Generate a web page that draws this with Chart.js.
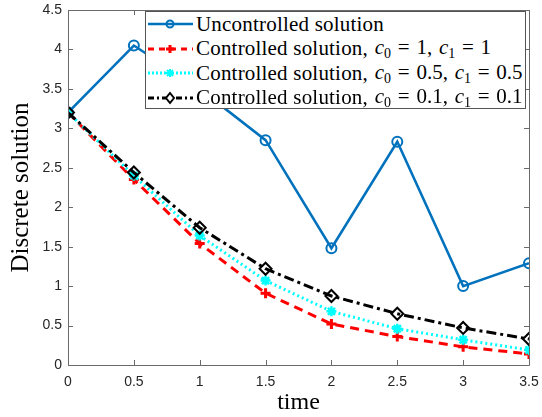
<!DOCTYPE html>
<html>
<head>
<meta charset="utf-8">
<script src="https://cdn.jsdelivr.net/npm/chart.js@4"></script>
<style>
  body { margin: 0; background: #fff; }
  #wrap { position: relative; width: 542px; height: 417px; }
  #legend {
    position: absolute; left: 145px; top: 11px; width: 381px; height: 98px;
    border: 1px solid #555; background: #fff; box-sizing: border-box;
    font: 21px "Liberation Serif", serif; color: #000;
    letter-spacing: 0.2px;
  }
  .row { height: 24.5px; display: flex; align-items: center; white-space: nowrap; }
  .row svg { width: 45px; height: 24px; margin-left: 2px; margin-right: 3px; flex: none; }
  .math { letter-spacing: 0; word-spacing: 1.5px; }
  i { font-style: italic; }
  sub { font-size: 14px; vertical-align: -4px; font-style: normal; }
</style>
</head>
<body>
<div id="wrap">
  <canvas id="chart"></canvas>
  <div id="legend"></div>
</div>
<script>
const times = [0, 0.5, 1, 1.5, 2, 2.5, 3, 3.5]
const uncontrolled = [3.2, 4.05, 3.5, 2.85, 1.48, 2.83, 1.0, 1.29]
const controlled1 = [3.2, 2.35, 1.54, 0.91, 0.52, 0.36, 0.23, 0.14]
const controlled05 = [3.2, 2.4, 1.64, 1.07, 0.68, 0.46, 0.32, 0.19]
const controlled01 = [3.2, 2.44, 1.74, 1.22, 0.875, 0.65, 0.47, 0.33]
const xTicks = [0, 0.5, 1, 1.5, 2, 2.5, 3, 3.5]
const yTicks = [0, 0.5, 1, 1.5, 2, 2.5, 3, 3.5, 4, 4.5]

const toPoints = (arr) => arr.map((v, i) => ({ x: times[i], y: v }))

const axisColor = "#262626"
const boxColor = "#6a6a6a"

// matlab style box with inward ticks
const boxTicks = {
  id: "boxTicks",
  afterDraw(chart) {
    const { ctx, chartArea: a, scales } = chart
    ctx.save()
    ctx.strokeStyle = boxColor
    ctx.lineWidth = 1
    ctx.beginPath()
    ctx.rect(Math.round(a.left) + 0.5, Math.round(a.top) + 0.5, Math.round(a.right - a.left), Math.round(a.bottom - a.top))
    xTicks.forEach((t) => {
      const px = Math.round(scales.x.getPixelForValue(t)) + 0.5
      ctx.moveTo(px, a.bottom); ctx.lineTo(px, a.bottom - 5)
      ctx.moveTo(px, a.top); ctx.lineTo(px, a.top + 5)
    })
    yTicks.forEach((t) => {
      const py = Math.round(scales.y.getPixelForValue(t)) + 0.5
      ctx.moveTo(a.left, py); ctx.lineTo(a.left + 5, py)
      ctx.moveTo(a.right, py); ctx.lineTo(a.right - 5, py)
    })
    ctx.stroke()
    ctx.restore()
  }
}

const tickFont = { family: "Liberation Sans", size: 14 }
const fmt = (v) => String(Number(v))

new Chart(document.querySelector("#chart"), {
  type: "line",
  plugins: [boxTicks],
  data: {
    datasets: [
      {
        label: "Uncontrolled solution",
        data: toPoints(uncontrolled),
        borderColor: "#0072BD",
        borderWidth: 2.5,
        pointStyle: "circle",
        pointRadius: 5,
        pointBorderWidth: 2,
        pointBackgroundColor: "rgba(0,0,0,0)",
        pointBorderColor: "#0072BD",
        order: 3,
      },
      {
        label: "Controlled solution, c0 = 1, c1 = 1",
        data: toPoints(controlled1),
        borderColor: "#FF0000",
        borderWidth: 3,
        borderDash: [9, 6],
        pointStyle: "cross",
        pointRadius: 5,
        pointBorderWidth: 3,
        pointBorderColor: "#FF0000",
        order: 2,
      },
      {
        label: "Controlled solution, c0 = 0.5, c1 = 0.5",
        data: toPoints(controlled05),
        borderColor: "#00FFFF",
        borderWidth: 3,
        borderDash: [2, 3],
        pointStyle: "star",
        pointRadius: 5,
        pointBorderWidth: 2.5,
        pointBorderColor: "#00FFFF",
        order: 1,
      },
      {
        label: "Controlled solution, c0 = 0.1, c1 = 0.1",
        data: toPoints(controlled01),
        borderColor: "#000000",
        borderWidth: 3,
        borderDash: [10, 4, 3, 4],
        pointStyle: "rectRot",
        pointRadius: 6,
        pointBorderWidth: 2,
        pointBackgroundColor: "rgba(0,0,0,0)",
        pointBorderColor: "#000000",
        order: 0,
      },
    ]
  },
  options: {
    responsive: true,
    maintainAspectRatio: false,
    animation: false,
    layout: { padding: { top: 10, right: 13, left: 6, bottom: 0 } },
    scales: {
      x: {
        type: "linear",
        min: 0,
        max: 3.5,
        afterBuildTicks: (s) => { s.ticks = xTicks.map((v) => ({ value: v })) },
        afterFit: (s) => { s.height = 52; s.paddingLeft = 0; s.paddingRight = 0 },
        grid: { display: false, drawTicks: false },
        border: { display: false },
        ticks: { font: tickFont, color: axisColor, padding: 9, maxRotation: 0, callback: fmt },
        title: {
          display: true,
          text: "time",
          font: { family: "Liberation Serif", size: 24 },
          color: "#000",
          padding: { top: 2, bottom: 0 },
        },
      },
      y: {
        min: 0,
        max: 4.5,
        afterBuildTicks: (s) => { s.ticks = yTicks.map((v) => ({ value: v })) },
        afterFit: (s) => { s.width = 62; s.paddingTop = 0; s.paddingBottom = 0 },
        grid: { display: false, drawTicks: false },
        border: { display: false },
        ticks: { font: tickFont, color: axisColor, padding: 6, callback: fmt },
        title: {
          display: true,
          text: "Discrete solution",
          font: { family: "Liberation Serif", size: 25 },
          color: "#000",
          padding: { top: 0, bottom: 0 },
        },
      },
    },
    plugins: {
      legend: { display: false },
      tooltip: { enabled: false },
    },
  },
})

// legend with subscripts, built from the dataset styles
const legendRows = [
  { text: "Uncontrolled solution", math: "", color: "#0072BD", dash: "", width: 2.5, marker: "circle" },
  { text: "Controlled solution, ", math: "<i>c</i><sub>0</sub> = 1, <i>c</i><sub>1</sub> = 1", color: "#FF0000", dash: "6 5", width: 3, marker: "plus" },
  { text: "Controlled solution, ", math: "<i>c</i><sub>0</sub> = 0.5, <i>c</i><sub>1</sub> = 0.5", color: "#00FFFF", dash: "2 2", width: 3, marker: "star" },
  { text: "Controlled solution, ", math: "<i>c</i><sub>0</sub> = 0.1, <i>c</i><sub>1</sub> = 0.1", color: "#000", dash: "6 3 2 3", width: 3, marker: "diamond" },
]

function markerSvg(type, c){
  if(type == "circle") return `<circle cx="22" cy="12" r="3.5" fill="none" stroke="${c}" stroke-width="2"/>`
  if(type == "plus") return `<path d="M18 12h8M22 8v8" stroke="${c}" stroke-width="3"/>`
  if(type == "star") return `<path d="M18 12h8M22 8v8M19 9l6 6M25 9l-6 6" stroke="${c}" stroke-width="2"/>`
  return `<path d="M22 7l4 5l-4 5l-4-5z" fill="#fff" stroke="${c}" stroke-width="2"/>`
}

document.querySelector("#legend").innerHTML = legendRows.map((r) => `
  <div class="row">
    <svg viewBox="0 0 45 24"><line x1="0" y1="12" x2="45" y2="12" stroke="${r.color}" stroke-width="${r.width}" stroke-dasharray="${r.dash}"/>${markerSvg(r.marker, r.color)}</svg>
    <span>${r.text}</span><span class="math">&nbsp;${r.math}</span>
  </div>`).join("")
</script>
</body>
</html>
